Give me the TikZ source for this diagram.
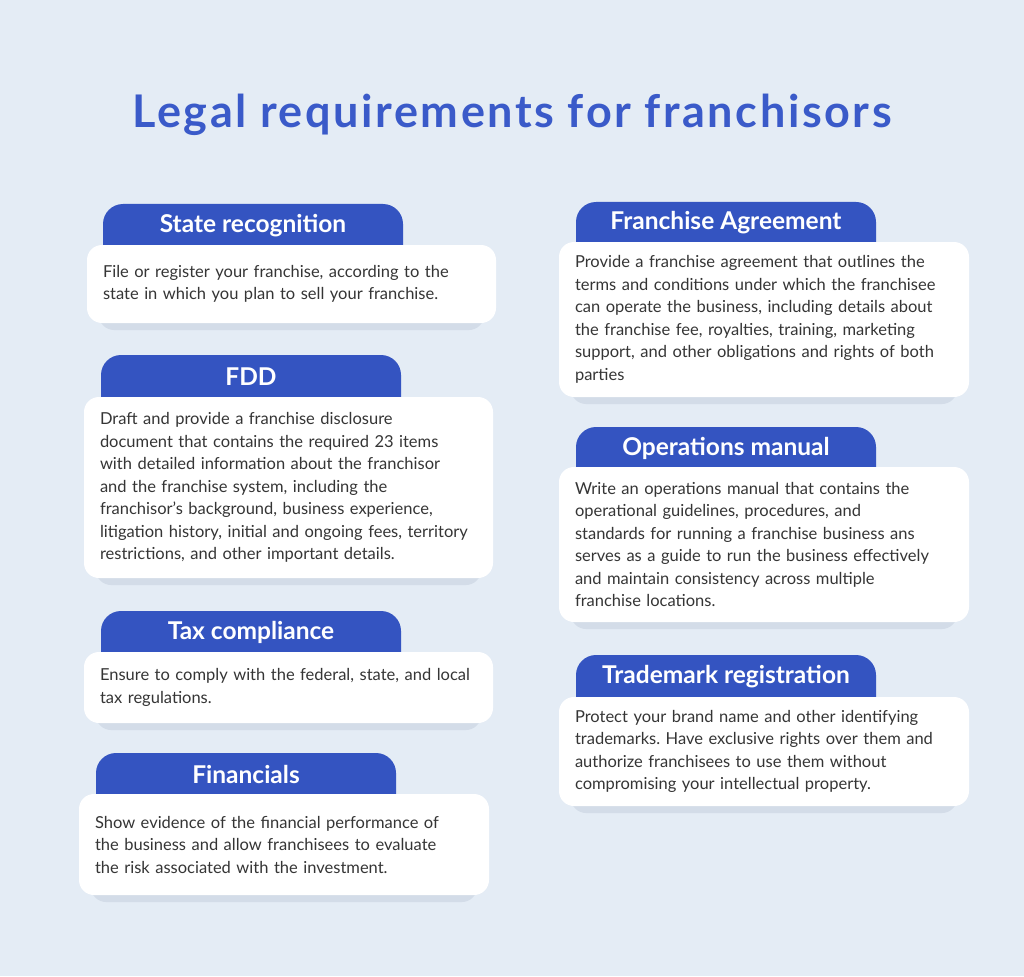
\documentclass[tikz,border=0pt]{standalone}
\usepackage{fontspec}
\setmainfont{Lato}
\newfontfamily\titlefont{Lato}[LetterSpace=5.7]
\definecolor{bgc}{HTML}{E4ECF5}
\definecolor{tabc}{HTML}{3454C1}
\definecolor{titlec}{HTML}{3A5AC9}
\definecolor{txtc}{HTML}{353535}
\definecolor{shc}{HTML}{D3DCE8}
\tikzset{
  tabbox/.style={rectangle, rounded corners=20pt, fill=tabc, minimum width=300pt, inner sep=0pt},
  cardbox/.style={rectangle, rounded corners=15pt, fill=white, inner xsep=16pt, inner ysep=0pt, align=left,
     text=txtc, font=\fontsize{16.5}{22.5}\selectfont\frenchspacing},
  headtxt/.style={text=white, font=\fontsize{24.5}{28}\selectfont\bfseries, inner sep=0pt},
  shadowc/.style={fill=shc},
}
\newcommand\mkcard[9]{%
  \pgfmathsetmacro\tabh{#5+25-#3}%
  \pgfmathsetmacro\tabcy{(#3+#5+25)/2}%
  \pgfmathsetmacro\cw{#6-#4}%
  \pgfmathsetmacro\tw{#6-#4-32}%
  \pgfmathsetmacro\ch{#7-#5}%
  \pgfmathsetmacro\ccx{(#4+#6)/2}%
  \pgfmathsetmacro\ccy{(#5+#7)/2}%
  \pgfmathsetmacro\hy{(#3+#5)/2+1}%
  \pgfmathsetmacro\tcx{#2+150}%
  \node[tabbox, minimum height=\tabh pt] (#1tab) at (\tcx,\tabcy) {};
  \fill[shadowc, rounded corners=15pt] (#4+12,#5+10) rectangle (#6-12,#7+7);
  \node[cardbox, minimum width=\cw pt, minimum height=\ch pt, text width=\tw pt] (#1) at (\ccx,\ccy) {#9};
  \node[headtxt] (#1head) at (\tcx,\hy) {#8};
}
\begin{document}
\begin{tikzpicture}[x=1pt,y=-1pt]
\fill[bgc] (0,0) rectangle (1024,976);
\useasboundingbox (0,0) rectangle (1024,976);
\node[text=titlec, font=\titlefont\fontsize{45}{52}\selectfont\bfseries, inner sep=0pt, anchor=base] (title) at (512,128) {Legal requirements for franchisors};

\mkcard{state}{103}{204}{87}{245}{496}{323}{State recognition}{File or register your franchise, according to the\\ state in which you plan to sell your franchise.}
\mkcard{fdd}{101}{355}{84}{397}{493}{578}{FDD}{Draft and provide a franchise disclosure\\ document that contains the required 23 items\\ with detailed information about the franchisor\\ and the franchise system, including the\\ franchisor's background, business experience,\\ litigation history, initial and ongoing fees, territory\\ restrictions, and other important details.}
\mkcard{tax}{101}{611}{84}{652}{493}{723}{Tax compliance}{Ensure to comply with the federal, state, and local\\ tax regulations.}
\mkcard{fin}{96}{753}{79}{794}{489}{895}{Financials}{Show evidence of the financial performance of\\ the business and allow franchisees to evaluate\\ the risk associated with the investment.}
\mkcard{fa}{576}{202}{559}{242}{969}{397}{Franchise Agreement}{Provide a franchise agreement that outlines the\\ terms and conditions under which the franchisee\\ can operate the business, including details about\\ the franchise fee, royalties, training, marketing\\ support, and other obligations and rights of both\\ parties}
\mkcard{ops}{576}{427}{559}{467}{969}{622}{Operations manual}{Write an operations manual that contains the\\ operational guidelines, procedures, and\\ standards for running a franchise business ans\\ serves as a guide to run the business effectively\\ and maintain consistency across multiple\\ franchise locations.}
\mkcard{tm}{576}{655}{559}{697}{969}{806}{Trademark registration}{Protect your brand name and other identifying\\ trademarks. Have exclusive rights over them and\\ authorize franchisees to use them without\\ compromising your intellectual property.}
\end{tikzpicture}
\end{document}
